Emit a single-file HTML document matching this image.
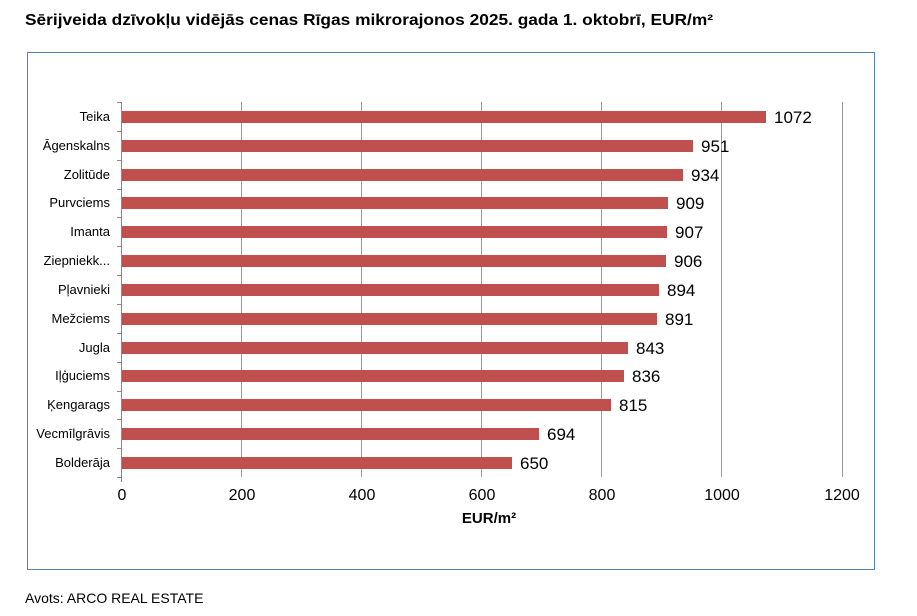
<!DOCTYPE html><html><head><meta charset="utf-8"><style>body{margin:0;background:#fff;width:917px;height:616px;overflow:hidden}svg{display:block;font-family:"Liberation Sans",Arial,sans-serif}</style></head><body>
<svg width="917" height="616" xmlns="http://www.w3.org/2000/svg">
<text x="25" y="25" font-size="15.5" font-weight="bold" textLength="688" lengthAdjust="spacingAndGlyphs">Sērijveida dzīvokļu vidējās cenas Rīgas mikrorajonos 2025. gada 1. oktobrī, EUR/m²</text>
<rect x="27.5" y="52.5" width="847" height="517" fill="none" stroke="#4f81bd" stroke-width="1"/>
<g stroke="#999" stroke-width="1">
<line x1="241.5" y1="102" x2="241.5" y2="477"/><line x1="361.5" y1="102" x2="361.5" y2="477"/><line x1="481.5" y1="102" x2="481.5" y2="477"/><line x1="601.5" y1="102" x2="601.5" y2="477"/><line x1="721.5" y1="102" x2="721.5" y2="477"/><line x1="842.5" y1="102" x2="842.5" y2="477"/>
</g>
<g stroke="#888" stroke-width="1"><line x1="121.5" y1="102" x2="121.5" y2="482"/>
<line x1="117" y1="102.5" x2="121" y2="102.5"/><line x1="117" y1="131.5" x2="121" y2="131.5"/><line x1="117" y1="160.5" x2="121" y2="160.5"/><line x1="117" y1="189.5" x2="121" y2="189.5"/><line x1="117" y1="217.5" x2="121" y2="217.5"/><line x1="117" y1="246.5" x2="121" y2="246.5"/><line x1="117" y1="275.5" x2="121" y2="275.5"/><line x1="117" y1="304.5" x2="121" y2="304.5"/><line x1="117" y1="333.5" x2="121" y2="333.5"/><line x1="117" y1="362.5" x2="121" y2="362.5"/><line x1="117" y1="391.5" x2="121" y2="391.5"/><line x1="117" y1="419.5" x2="121" y2="419.5"/><line x1="117" y1="448.5" x2="121" y2="448.5"/><line x1="117" y1="477.5" x2="121" y2="477.5"/>
</g>
<g fill="#c0504d">
<rect x="122" y="111" width="644" height="12"/><rect x="122" y="140" width="571" height="12"/><rect x="122" y="169" width="561" height="12"/><rect x="122" y="197" width="546" height="12"/><rect x="122" y="226" width="545" height="12"/><rect x="122" y="255" width="544" height="12"/><rect x="122" y="284" width="537" height="12"/><rect x="122" y="313" width="535" height="12"/><rect x="122" y="342" width="506" height="12"/><rect x="122" y="370" width="502" height="12"/><rect x="122" y="399" width="489" height="12"/><rect x="122" y="428" width="417" height="12"/><rect x="122" y="457" width="390" height="12"/>
</g>
<g font-size="13" text-anchor="end">
<text x="110" y="121">Teika</text><text x="110" y="150">Āgenskalns</text><text x="110" y="179">Zolitūde</text><text x="110" y="207">Purvciems</text><text x="110" y="236">Imanta</text><text x="110" y="265">Ziepniekk...</text><text x="110" y="294">Pļavnieki</text><text x="110" y="323">Mežciems</text><text x="110" y="352">Jugla</text><text x="110" y="380">Iļģuciems</text><text x="110" y="409">Ķengarags</text><text x="110" y="438">Vecmīlgrāvis</text><text x="110" y="467">Bolderāja</text>
</g>
<g font-size="17">
<text x="774" y="123">1072</text><text x="701" y="152">951</text><text x="691" y="181">934</text><text x="676" y="209">909</text><text x="675" y="238">907</text><text x="674" y="267">906</text><text x="667" y="296">894</text><text x="665" y="325">891</text><text x="636" y="354">843</text><text x="632" y="382">836</text><text x="619" y="411">815</text><text x="547" y="440">694</text><text x="520" y="469">650</text>
</g>
<g font-size="16" text-anchor="middle">
<text x="122" y="500">0</text><text x="242" y="500">200</text><text x="362" y="500">400</text><text x="482" y="500">600</text><text x="602" y="500">800</text><text x="722" y="500">1000</text><text x="842" y="500">1200</text>
</g>
<text x="489" y="523" font-size="15" font-weight="bold" text-anchor="middle">EUR/m²</text>
<text x="25" y="603" font-size="14">Avots: ARCO REAL ESTATE</text>
</svg></body></html>
